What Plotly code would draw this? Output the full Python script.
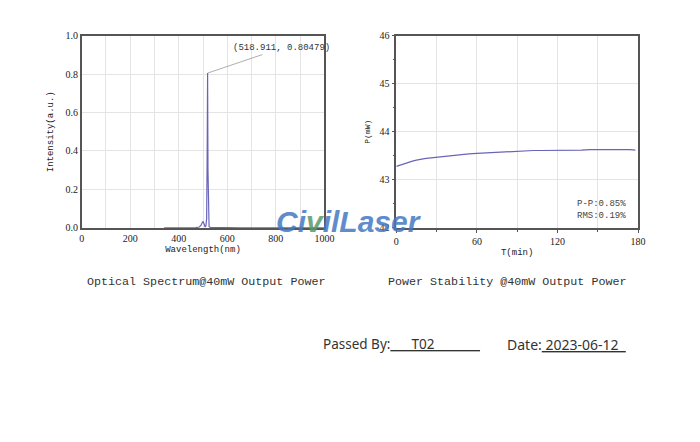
import plotly.graph_objects as go

# ---------------- data ----------------
wavelength = [340, 380, 420, 450, 470, 485, 492, 497, 500, 503, 506, 509, 512, 515, 517, 518.911, 520.5, 522, 525, 530, 550, 600, 650, 700, 800, 900, 1000]
intensity = [0.0, 0.0, 0.001, 0.001, 0.002, 0.005, 0.014, 0.028, 0.033, 0.026, 0.012, 0.005, 0.01, 0.05, 0.35, 0.80479, 0.3, 0.04, 0.008, 0.003, 0.002, 0.002, 0.001, 0.001, 0.001, 0.001, 0.0]

time_min = [0, 3, 6, 9, 12, 15, 18, 21, 24, 27, 30, 36, 42, 48, 54, 60, 66, 72, 78, 84, 90, 96, 102, 108, 114, 120, 126, 132, 138, 144, 150, 156, 162, 168, 174, 178]
power_mw = [43.28, 43.31, 43.34, 43.37, 43.39, 43.41, 43.43, 43.44, 43.45, 43.46, 43.47, 43.49, 43.51, 43.52, 43.54, 43.55, 43.56, 43.57, 43.58, 43.59, 43.60, 43.60, 43.61, 43.61, 43.61, 43.61, 43.62, 43.62, 43.62, 43.63, 43.63, 43.64, 43.63, 43.63, 43.63, 43.62]

spec_xticks = [0, 200, 400, 600, 800, 1000]
spec_yticks = [0.0, 0.2, 0.4, 0.6, 0.8, 1.0]
spec_ytext = ["0.0", "0.2", "0.4", "0.6", "0.8", "1.0"]
pow_xticks = [0, 60, 120, 180]
pow_yticks = [42, 43, 44, 45, 46]

peak_label = "(518.911, 0.80479)"
stats_text = "P-P:0.85%<br>RMS:0.19%"

# ---------------- figure ----------------
W, H = 684, 426
A, B = 10.3, 0.982  # page placement calibration
MONO = "Liberation Mono, DejaVu Sans Mono, monospace"
SERIF = "Liberation Serif, DejaVu Serif, serif"
SANS = "Noto Sans, DejaVu Sans, sans-serif"
LINE = "#6a64b8"
FRAME = "#555555"
GRID = "#e4e4e4"

fig = go.Figure()
fig.add_trace(go.Scatter(x=wavelength, y=intensity, mode="lines",
                         line=dict(color=LINE, width=1.2), xaxis="x", yaxis="y",
                         showlegend=False, hoverinfo="skip"))
fig.add_trace(go.Scatter(x=time_min, y=power_mw, mode="lines",
                         line=dict(color=LINE, width=1.2), xaxis="x2", yaxis="y2",
                         showlegend=False, hoverinfo="skip"))


def px_x(p):
    return ((p - A) / B) / W


def px_y(p):
    return 1 - ((p - A) / B) / H


ydom = [px_y(227), px_y(33)]
tickfont = dict(family=SERIF, size=10, color="#222222")
titlefont = dict(family=MONO, size=9, color="#222222")

fig.update_layout(
    width=W, height=H,
    margin=dict(l=0, r=0, t=0, b=0),
    paper_bgcolor="#ffffff", plot_bgcolor="#ffffff",
    xaxis=dict(domain=[px_x(81), px_x(324)], range=[0, 1000], tickvals=spec_xticks,
               showgrid=True, gridcolor=GRID, gridwidth=1,
               minor=dict(dtick=100, showgrid=True, gridcolor=GRID),
               showline=True, linecolor=FRAME, linewidth=1.5, mirror=True,
               ticks="", tickfont=tickfont, zeroline=False,
               title=dict(text="Wavelength(nm)", font=titlefont, standoff=3)),
    yaxis=dict(domain=ydom, range=[0, 1.0], tickvals=spec_yticks, ticktext=spec_ytext,
               showgrid=True, gridcolor=GRID, gridwidth=1,
               showline=True, linecolor=FRAME, linewidth=1.5, mirror=True,
               ticks="", tickfont=tickfont, zeroline=False,
               title=dict(text="Intensity(a.u.)", font=titlefont, standoff=10)),
    xaxis2=dict(domain=[px_x(396), px_x(638)], range=[0, 180], tickvals=pow_xticks, anchor="y2",
                showgrid=True, gridcolor=GRID, gridwidth=1,
                minor=dict(dtick=30, showgrid=True, gridcolor=GRID, ticks="outside", ticklen=2, tickcolor=FRAME),
                showline=True, linecolor=FRAME, linewidth=1.5, mirror=True,
                ticks="outside", ticklen=3, tickcolor=FRAME, tickfont=tickfont, zeroline=False,
                title=dict(text="T(min)", font=titlefont, standoff=3)),
    yaxis2=dict(domain=ydom, range=[42, 46], tickvals=pow_yticks, anchor="x2",
                showgrid=True, gridcolor=GRID, gridwidth=1,
                minor=dict(dtick=0.5, ticks="outside", ticklen=2, tickcolor=FRAME),
                showline=True, linecolor=FRAME, linewidth=1.5, mirror=True,
                ticks="outside", ticklen=3, tickcolor=FRAME, tickfont=tickfont, zeroline=False,
                title=dict(text="P(mW)", font=dict(family=MONO, size=8, color="#222"), standoff=8)),
)

annotations = [
    dict(x=518.911, y=0.80479, xref="x", yref="y", text=peak_label,
         showarrow=True, arrowhead=0, arrowwidth=0.8, arrowcolor="#999999",
         ax=74, ay=-25, xanchor="center", yanchor="middle", font=dict(family=MONO, size=9, color="#333")),
    dict(x=px_x(628), y=px_y(209), xref="paper", yref="paper", text=stats_text,
         showarrow=False, xanchor="right", yanchor="middle", align="left",
         font=dict(family=MONO, size=9, color="#444")),
    dict(x=px_x(205), y=px_y(281), xref="paper", yref="paper", xanchor="center", yanchor="middle",
         text="Optical Spectrum@40mW Output Power", showarrow=False,
         font=dict(family=MONO, size=11.7, color="#333")),
    dict(x=px_x(507), y=px_y(281), xref="paper", yref="paper", xanchor="center", yanchor="middle",
         text="Power Stability @40mW Output Power", showarrow=False,
         font=dict(family=MONO, size=11.7, color="#333")),
    dict(x=px_x(321), y=px_y(344), xref="paper", yref="paper", xanchor="left", yanchor="middle",
         text="Passed By:<u>" + "\u00a0" * 6 + "T02" + "\u00a0" * 13 + "</u>",
         showarrow=False, font=dict(family=SANS, size=13.5, color="#333")),
    dict(x=px_x(505), y=px_y(344), xref="paper", yref="paper", xanchor="left", yanchor="middle",
         text="Date:<u>\u00a02023-06-12\u00a0\u00a0</u>",
         showarrow=False, font=dict(family=SANS, size=14, color="#333")),
    dict(x=px_x(349), y=px_y(220), xref="paper", yref="paper", xanchor="center", yanchor="middle",
         text="<b><i>Ci<span style='color:#5a9a6a'>v</span>ilLaser</i></b>", showarrow=False, opacity=0.85,
         font=dict(family="Liberation Sans, Arial, sans-serif", size=30, color="#4579c2")),
]
fig.update_layout(annotations=annotations)

fig.write_html("out.html")
